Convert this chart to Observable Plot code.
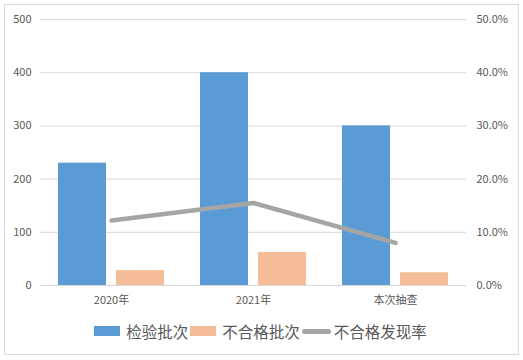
<!DOCTYPE html>
<html>
<head>
<meta charset="utf-8">
<script src="https://cdn.jsdelivr.net/npm/d3@7"></script>
<script src="https://cdn.jsdelivr.net/npm/@observablehq/plot@0.6"></script>
<style>
  html, body { margin: 0; padding: 0; background: #fff; }
  body { width: 523px; height: 360px; position: relative; font-family: "Noto Sans CJK SC", sans-serif; }
  #frame { position: absolute; left: 4px; top: 4px; width: 513px; height: 349px; border: 1px solid #d9d9d9; }
  #legend { display: flex; justify-content: center; align-items: center; margin-top: 5px; font-size: 15.5px; color: #595959; }
  .sw { display: inline-block; width: 26px; height: 10px; margin-right: 6px; }
  .ln { display: inline-block; width: 29px; height: 5px; border-radius: 3px; background: #a5a5a5; margin-right: 3px; }
  .item { display: flex; align-items: center; margin-right: 2px; }
</style>
</head>
<body>
<div id="frame"><div id="chart"></div><div id="legend"></div></div>
<script>
const categories = ["2020年", "2021年", "本次抽查"];
const inspectedBatches = [230, 400, 300];
const failedBatches = [28, 62, 24];
const failRate = [0.122, 0.155, 0.08];
const leftTicks = [0, 100, 200, 300, 400, 500];
const rightTicks = [0, 0.1, 0.2, 0.3, 0.4, 0.5];
const seriesNames = ["检验批次", "不合格批次", "不合格发现率"];
const colors = ["#5b9bd5", "#f5bd97", "#a5a5a5"];

const rows = categories.map((c, i) => ({category: c, inspected: inspectedBatches[i], failed: failedBatches[i], rate: failRate[i]}));

const chart = Plot.plot({
  width: 513,
  height: 310,
  marginLeft: 35,
  marginRight: 52,
  marginTop: 14,
  marginBottom: 30,
  style: {fontFamily: '"Noto Sans CJK SC", sans-serif', fontSize: "11px", color: "#595959", background: "transparent"},
  x: {domain: categories, padding: 0, tickSize: 0, tickPadding: 11, label: null},
  y: {domain: [0, 500], ticks: leftTicks, tickSize: 0, tickPadding: 9, label: null},
  marks: [
    Plot.ruleY(leftTicks, {stroke: "#d9d9d9", strokeWidth: 1}),
    Plot.barY(rows, {x: "category", y: "inspected", fill: colors[0], insetLeft: 18, insetRight: 76}),
    Plot.barY(rows, {x: "category", y: "failed", fill: colors[1], insetLeft: 76, insetRight: 18}),
    Plot.lineY(rows, {x: "category", y: d => d.rate * 1000, stroke: colors[2], strokeWidth: 4.5, strokeLinecap: "round", strokeLinejoin: "round"}),
    Plot.text(rightTicks, {y: d => d * 1000, text: d => (d * 100).toFixed(1) + "%", frameAnchor: "right", textAnchor: "start", dx: 10, fill: "#595959", fontSize: 11})
  ]
});
document.getElementById("chart").appendChild(chart);

const legend = document.getElementById("legend");
seriesNames.forEach((name, i) => {
  const item = document.createElement("span");
  item.className = "item";
  const sw = document.createElement("span");
  if (i < 2) { sw.className = "sw"; sw.style.background = colors[i]; }
  else { sw.className = "ln"; sw.style.background = colors[i]; }
  const t = document.createElement("span");
  t.textContent = name;
  item.appendChild(sw);
  item.appendChild(t);
  legend.appendChild(item);
});
</script>
</body>
</html>
